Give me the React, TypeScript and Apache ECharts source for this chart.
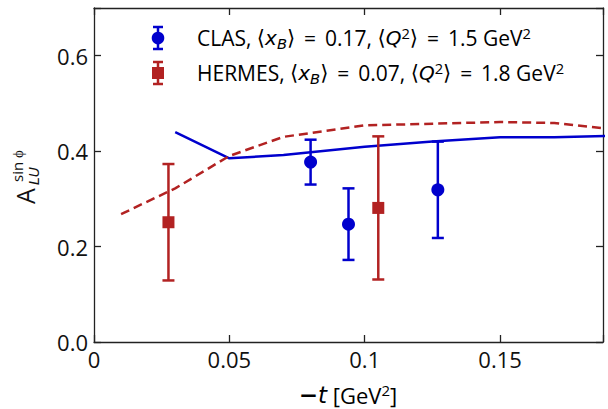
import React, { useEffect, useRef } from "react";
import * as echarts from "echarts";

// CLAS data (blue circles)
const clasT = [0.08, 0.094, 0.127];
const clasA = [0.377, 0.247, 0.319];
const clasErr = [0.047, 0.075, 0.101];

// HERMES data (red squares)
const hermesT = [0.0275, 0.105];
const hermesA = [0.251, 0.281];
const hermesErr = [0.122, 0.15];

// CLAS model curve (solid blue)
const clasCurveT = [0.03, 0.05, 0.07, 0.1, 0.125, 0.15, 0.17, 0.19];
const clasCurveA = [0.44, 0.385, 0.392, 0.409, 0.42, 0.429, 0.429, 0.432];

// HERMES model curve (dashed red)
const hermesCurveT = [0.01, 0.03, 0.05, 0.07, 0.1, 0.15, 0.17, 0.19];
const hermesCurveA = [0.268, 0.322, 0.39, 0.43, 0.454, 0.461, 0.459, 0.447];

const xTicks = [0, 0.05, 0.1, 0.15];
const yTicks = [0, 0.2, 0.4, 0.6];

const BLUE = "#0000CD";
const RED = "#B22222";
const FONT = "Open Sans";
const TXT = "#111";

function errorBarSeries(name: string, ts: number[], as: number[], es: number[], color: string) {
  return {
    name,
    type: "custom",
    data: ts.map((t, i) => [t, as[i], es[i]]),
    encode: { x: 0, y: 1 },
    z: 3,
    renderItem: (params: any, api: any) => {
      const x = api.value(0);
      const y = api.value(1);
      const e = api.value(2);
      const top = api.coord([x, y + e]);
      const bot = api.coord([x, y - e]);
      const hw = 6;
      const st = { stroke: color, lineWidth: 2.5 };
      return {
        type: "group",
        children: [
          { type: "line", shape: { x1: top[0], y1: top[1], x2: bot[0], y2: bot[1] }, style: st },
          { type: "line", shape: { x1: top[0] - hw, y1: top[1], x2: top[0] + hw, y2: top[1] }, style: st },
          { type: "line", shape: { x1: bot[0] - hw, y1: bot[1], x2: bot[0] + hw, y2: bot[1] }, style: st },
        ],
      };
    },
  };
}

const legendRich = (size: number) => ({
  n: { fontFamily: FONT, fontSize: size, color: TXT, lineHeight: 30, verticalAlign: "middle" },
  i: { fontFamily: "DejaVu Sans", fontStyle: "italic", fontSize: size - 1, color: TXT, lineHeight: 30, verticalAlign: "middle" },
  sub: { fontFamily: "DejaVu Sans", fontStyle: "italic", fontSize: size * 0.7, color: TXT, lineHeight: 30, verticalAlign: "bottom", padding: [0, 0, 2, 0] },
  sup: { fontFamily: FONT, fontSize: size * 0.7, color: TXT, lineHeight: 30, verticalAlign: "top", padding: [2, 0, 0, 0] },
  br: { fontFamily: "DejaVu Sans", fontSize: size, color: TXT, lineHeight: 30, verticalAlign: "middle" },
});

function legendMarker(y: number, color: string, symbol: "circle" | "square") {
  const x = 158;
  const st = { stroke: color, lineWidth: 2.5 };
  const children: any[] = [
    { type: "line", shape: { x1: x, y1: y - 11, x2: x, y2: y + 11 }, style: st },
    { type: "line", shape: { x1: x - 5, y1: y - 11, x2: x + 5, y2: y - 11 }, style: st },
    { type: "line", shape: { x1: x - 5, y1: y + 11, x2: x + 5, y2: y + 11 }, style: st },
  ];
  if (symbol === "circle") {
    children.push({ type: "circle", shape: { cx: x, cy: y, r: 6.3 }, style: { fill: color } });
  } else {
    children.push({ type: "rect", shape: { x: x - 6, y: y - 6, width: 12, height: 12 }, style: { fill: color } });
  }
  return { type: "group", children };
}

function rotText(x: number, y: number, text: string, size: number, italic: boolean, family: string) {
  return {
    type: "text",
    x,
    y,
    rotation: Math.PI / 2,
    style: {
      text,
      fontFamily: family,
      fontStyle: italic ? "italic" : "normal",
      fontSize: size,
      fill: TXT,
      align: "center",
      verticalAlign: "middle",
    },
  };
}

const EQ = "\u2009=\u2009";

export default function App() {
  const ref = useRef<HTMLDivElement>(null);
  useEffect(() => {
    document.body.style.margin = "0";
    const chart = echarts.init(ref.current!, undefined, { renderer: "svg" });
    const axisLine = { show: true, onZero: false, lineStyle: { color: "#222", width: 1.3 } };
    const axisTick = { show: true, inside: true, length: 7, lineStyle: { color: "#222", width: 1.3 } };
    const grid = { left: 94, right: 5, top: 8, bottom: 67 };
    const xBase = {
      type: "value",
      min: 0,
      max: 0.188,
      interval: 0.05,
      splitLine: { show: false },
      axisLine,
      axisTick,
    };
    const yBase = {
      type: "value",
      min: 0,
      max: 0.7,
      interval: 0.2,
      splitLine: { show: false },
      axisLine,
      axisTick,
    };
    const rich = legendRich(21);
    chart.setOption({
      animation: false,
      backgroundColor: "#fff",
      grid,
      xAxis: [
        {
          ...xBase,
          position: "bottom",
          axisLabel: {
            fontFamily: FONT,
            fontSize: 22,
            color: TXT,
            margin: 6,
            formatter: (v: number) => (xTicks.some((t) => Math.abs(t - v) < 1e-9) ? String(+v.toFixed(2)) : ""),
          },
        },
        { ...xBase, position: "top", axisLabel: { show: false } },
      ],
      yAxis: [
        {
          ...yBase,
          position: "left",
          axisLabel: {
            fontFamily: FONT,
            fontSize: 22,
            color: TXT,
            margin: 6,
            formatter: (v: number) => (yTicks.some((t) => Math.abs(t - v) < 1e-9) ? v.toFixed(1) : ""),
          },
        },
        { ...yBase, position: "right", axisLabel: { show: false } },
      ],
      series: [
        {
          name: "CLAS model",
          type: "line",
          data: clasCurveT.map((t, i) => [t, clasCurveA[i]]),
          showSymbol: false,
          symbol: "none",
          lineStyle: { color: BLUE, width: 2.5 },
          z: 2,
        },
        {
          name: "HERMES model",
          type: "line",
          data: hermesCurveT.map((t, i) => [t, hermesCurveA[i]]),
          showSymbol: false,
          symbol: "none",
          lineStyle: { color: RED, width: 2.5, type: [9, 5] },
          z: 2,
        },
        errorBarSeries("CLAS err", clasT, clasA, clasErr, BLUE),
        errorBarSeries("HERMES err", hermesT, hermesA, hermesErr, RED),
        {
          name: "CLAS",
          type: "scatter",
          data: clasT.map((t, i) => [t, clasA[i]]),
          symbol: "circle",
          symbolSize: 13,
          itemStyle: { color: BLUE, opacity: 1 },
          z: 4,
        },
        {
          name: "HERMES",
          type: "scatter",
          data: hermesT.map((t, i) => [t, hermesA[i]]),
          symbol: "rect",
          symbolSize: 12,
          itemStyle: { color: RED, opacity: 1 },
          z: 4,
        },
      ],
      graphic: [
        legendMarker(38, BLUE, "circle"),
        legendMarker(73, RED, "square"),
        {
          type: "text",
          x: 197,
          y: 38,
          style: {
            text: `{n|CLAS, }{br|⟨}{i|x}{sub|B}{br|⟩}{n| ${EQ} 0.17, }{br|⟨}{i|Q}{sup|2}{br|⟩}{n| ${EQ} 1.5 GeV}{sup|2}`,
            rich,
            verticalAlign: "middle",
            align: "left",
          },
        },
        {
          type: "text",
          x: 197,
          y: 73,
          style: {
            text: `{n|HERMES, }{br|⟨}{i|x}{sub|B}{br|⟩}{n| ${EQ} 0.07, }{br|⟨}{i|Q}{sup|2}{br|⟩}{n| ${EQ} 1.8 GeV}{sup|2}`,
            rich,
            verticalAlign: "middle",
            align: "left",
          },
        },
        {
          type: "text",
          x: 348,
          y: 395,
          style: {
            text: "{m|−}{i|t}{n| [GeV}{sup|2}{n|]}",
            align: "center",
            verticalAlign: "middle",
            rich: {
              m: { fontFamily: "DejaVu Sans", fontWeight: "bold", fontSize: 23, color: TXT, lineHeight: 30, verticalAlign: "middle" },
              i: { fontFamily: "DejaVu Sans", fontStyle: "italic", fontSize: 23, color: TXT, lineHeight: 30, verticalAlign: "middle" },
              n: { fontFamily: FONT, fontSize: 22, color: TXT, lineHeight: 30, verticalAlign: "middle" },
              sup: { fontFamily: FONT, fontSize: 15, color: TXT, lineHeight: 30, verticalAlign: "top", padding: [2, 0, 0, 0] },
            },
          },
        },
        rotText(25, 196, "A", 25, false, FONT),
        rotText(34, 176, "LU", 14, true, "DejaVu Sans"),
        rotText(17, 166, "sin ϕ", 15, false, FONT),
      ],
    });
    return () => chart.dispose();
  }, []);
  return <div ref={ref} style={{ width: 608, height: 409 }} />;
}
